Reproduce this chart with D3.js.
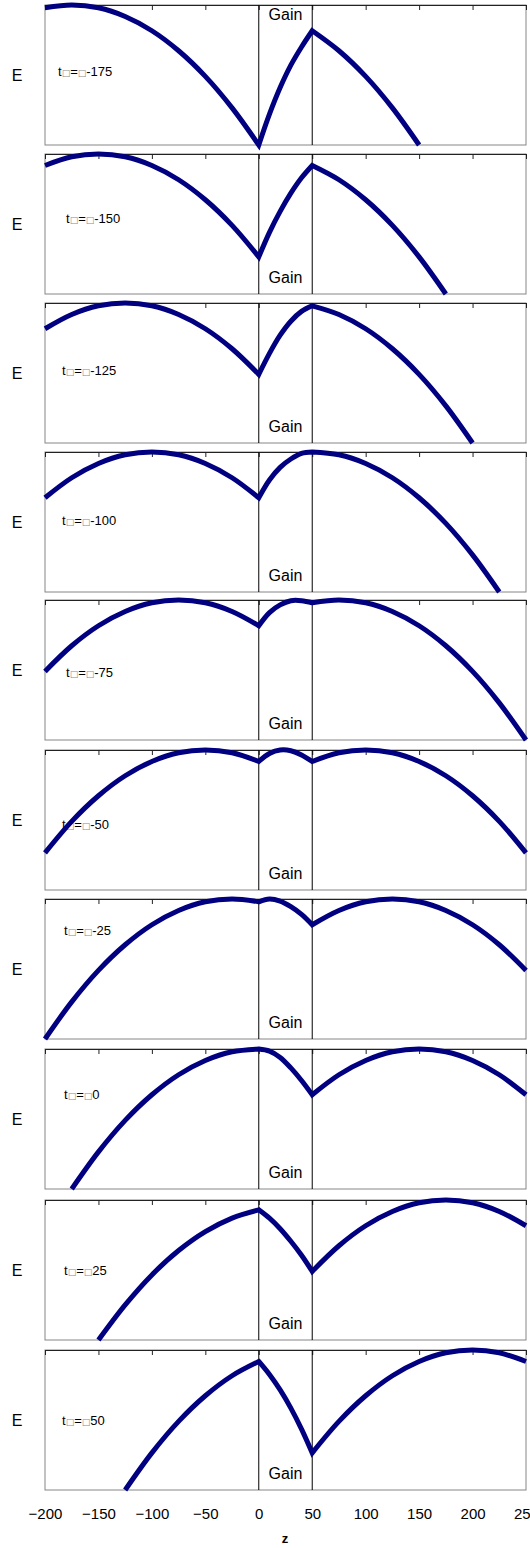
<!DOCTYPE html>
<html>
<head>
<meta charset="utf-8">
<script src="https://cdn.jsdelivr.net/npm/d3@7"></script>
<style>
  body { margin: 0; background: #fff; }
  text { font-family: Arial, "Liberation Sans", sans-serif; }
</style>
</head>
<body>
<script>
const width = 530;
const height = 1548;

// time of each panel
const times = [-175, -150, -125, -100, -75, -50, -25, 0, 25, 50];

// z positions of the three regions
const leftZ = [-200, -175, -150, -125, -100, -75, -50, -25, 0];
const gainZ = [0, 10, 20, 30, 40, 50];
const rightZ = [50, 75, 100, 125, 150, 175, 200, 225, 250];

// E (relative to panel height) before the gain region
const leftE = [
    [0.98, 1, 0.98, 0.918, 0.816, 0.673, 0.49, 0.265, 0],
    [0.918, 0.98, 1, 0.98, 0.918, 0.816, 0.673, 0.49, 0.265],
    [0.816, 0.918, 0.98, 1, 0.98, 0.918, 0.816, 0.673, 0.49],
    [0.673, 0.816, 0.918, 0.98, 1, 0.98, 0.918, 0.816, 0.673],
    [0.49, 0.673, 0.816, 0.918, 0.98, 1, 0.98, 0.918, 0.816],
    [0.265, 0.49, 0.673, 0.816, 0.918, 0.98, 1, 0.98, 0.918],
    [0, 0.265, 0.49, 0.673, 0.816, 0.918, 0.98, 1, 0.98],
    [null, 0, 0.265, 0.49, 0.673, 0.816, 0.918, 0.98, 1],
    [null, null, 0, 0.251, 0.465, 0.639, 0.774, 0.871, 0.93],
    [null, null, null, 0, 0.265, 0.49, 0.673, 0.816, 0.918]
];

// E inside the gain region
const gainE = [
    [0, 0.22, 0.41, 0.57, 0.70, 0.816],
    [0.265, 0.44, 0.59, 0.72, 0.83, 0.918],
    [0.49, 0.64, 0.77, 0.87, 0.94, 0.98],
    [0.673, 0.80, 0.89, 0.95, 0.99, 1],
    [0.816, 0.91, 0.965, 0.995, 0.995, 0.98],
    [0.918, 0.975, 1, 0.995, 0.965, 0.918],
    [0.98, 1, 0.985, 0.945, 0.89, 0.816],
    [1, 0.985, 0.94, 0.865, 0.775, 0.673],
    [0.93, 0.87, 0.795, 0.705, 0.605, 0.49],
    [0.918, 0.825, 0.715, 0.585, 0.435, 0.265]
];

// E after the gain region
const rightE = [
    [0.816, 0.673, 0.49, 0.265, 0, null, null, null, null],
    [0.918, 0.816, 0.673, 0.49, 0.265, 0, null, null, null],
    [0.98, 0.918, 0.816, 0.673, 0.49, 0.265, 0, null, null],
    [1, 0.98, 0.918, 0.816, 0.673, 0.49, 0.265, 0, null],
    [0.98, 1, 0.98, 0.918, 0.816, 0.673, 0.49, 0.265, 0],
    [0.918, 0.98, 1, 0.98, 0.918, 0.816, 0.673, 0.49, 0.265],
    [0.816, 0.918, 0.98, 1, 0.98, 0.918, 0.816, 0.673, 0.49],
    [0.673, 0.816, 0.918, 0.98, 1, 0.98, 0.918, 0.816, 0.673],
    [0.49, 0.673, 0.816, 0.918, 0.98, 1, 0.98, 0.918, 0.816],
    [0.265, 0.49, 0.673, 0.816, 0.918, 0.98, 1, 0.98, 0.918]
];

const xTicks = [-200, -150, -100, -50, 0, 50, 100, 150, 200, 250];

// layout
const panelTops = [5, 154, 303, 452, 600, 750, 899, 1049, 1200, 1350];
const panelH = 140;
const labelPos = [[58, 71], [66, 69], [62, 72], [62, 73], [66, 77], [62, 79], [64, 36], [64, 50], [64, 75], [62, 75]];

const svg = d3.select('body')
    .append('svg')
    .attr('width', width)
    .attr('height', height);

const x = d3.scaleLinear().domain([-200, 250]).range([45, 526]);

const pairs = (zs, es) => zs.map((z, i) => [z, es[i]]).filter(d => d[1] !== null);

times.forEach((t, i) => {
    const top = panelTops[i];
    const bottom = top + panelH;
    const y = d3.scaleLinear().domain([0, 1]).range([bottom, top]);
    const g = svg.append('g');

    // plot frame
    g.append('rect')
        .attr('x', x(-200))
        .attr('y', top)
        .attr('width', x(250) - x(-200))
        .attr('height', panelH)
        .attr('fill', 'none')
        .attr('stroke', '#868686');

    // axis crossing at the top, ticks pointing inwards
    const ax = g.append('g')
        .attr('transform', `translate(0,${top})`)
        .call(d3.axisBottom(x).tickValues(xTicks).tickSize(5).tickSizeOuter(0).tickFormat(''));
    ax.select('.domain').attr('stroke', '#222');
    ax.selectAll('.tick line').attr('stroke', '#222');

    // gain region borders
    g.selectAll('line.gain')
        .data([0, 50])
        .enter()
        .append('line')
        .attr('x1', d => x(d))
        .attr('x2', d => x(d))
        .attr('y1', top)
        .attr('y2', bottom)
        .attr('stroke', '#000')
        .attr('stroke-width', 1);

    g.append('text')
        .attr('x', x(25))
        .attr('y', i === 0 ? top + 15 : bottom - 11)
        .attr('text-anchor', 'middle')
        .attr('font-size', 16)
        .text('Gain');

    g.append('text')
        .attr('x', 17)
        .attr('y', top + panelH / 2 + 6)
        .attr('text-anchor', 'middle')
        .attr('font-size', 16)
        .text('E');

    // t label (boxes are the missing glyphs of the original)
    const lab = g.append('text')
        .attr('x', labelPos[i][0])
        .attr('y', top + labelPos[i][1])
        .attr('font-size', 13);
    lab.append('tspan').text('t');
    lab.append('tspan').attr('font-size', 9).attr('fill', '#888')
        .attr('font-family', 'DejaVu Sans').text('\u25A1');
    lab.append('tspan').text('=');
    lab.append('tspan').attr('font-size', 9).attr('fill', '#888')
        .attr('font-family', 'DejaVu Sans').text('\u25A1');
    lab.append('tspan').text(t);

    // curve, three smooth pieces joined at z = 0 and z = 50
    const line = d3.line()
        .x(d => x(d[0]))
        .y(d => y(d[1]))
        .curve(d3.curveCatmullRom);
    const strip = s => s.replace(/^M[-\d.,e]+/, '');
    const d = line(pairs(leftZ, leftE[i]))
        + strip(line(pairs(gainZ, gainE[i])))
        + strip(line(pairs(rightZ, rightE[i])));

    g.append('path')
        .attr('d', d)
        .attr('fill', 'none')
        .attr('stroke', '#000080')
        .attr('stroke-width', 5)
        .attr('stroke-linejoin', 'miter');
});

// bottom axis labels
const lastBottom = panelTops[9] + panelH;
const bx = svg.append('g')
    .attr('transform', `translate(0,${lastBottom})`)
    .call(d3.axisBottom(x).tickValues(xTicks).tickSize(0).tickPadding(18));
bx.select('.domain').remove();
bx.selectAll('text')
    .attr('font-size', 15)
    .attr('font-family', 'Arial, "Liberation Sans", sans-serif')
    .attr('fill', '#000');

svg.append('text')
    .attr('x', 285)
    .attr('y', 1543)
    .attr('text-anchor', 'middle')
    .attr('font-size', 13)
    .attr('font-weight', 'bold')
    .text('z');
</script>
</body>
</html>
